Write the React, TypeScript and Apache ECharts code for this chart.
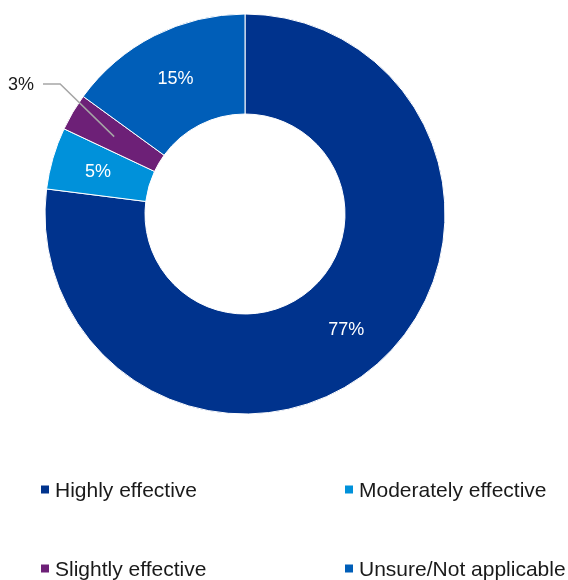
import React, { useEffect, useRef } from "react";
import * as echarts from "echarts";

const categories = ["Highly effective", "Moderately effective", "Slightly effective", "Unsure/Not applicable"];
const values = [77, 5, 3, 15];
const colors = ["#00338D", "#0091DA", "#6D2077", "#005EB8"];

const CX = 245;
const CY = 214;
const R0 = 100;
const R1 = 200;

export default function App() {
  const ref = useRef<HTMLDivElement>(null);
  useEffect(() => {
    const chart = echarts.init(ref.current!, null, { renderer: "svg" });
    const total = values.reduce((a, b) => a + b, 0);
    const legendPos = [
      { left: 39, top: 479 },
      { left: 343, top: 479 },
      { left: 39, top: 558 },
      { left: 343, top: 558 },
    ];
    let before = 0;
    for (let k = 0; k < 2; k++) before += values[k];
    const mid = ((before + values[2] / 2) / total) * Math.PI * 2;
    const rm = (R0 + R1) / 2 + 2;
    const sx = CX + rm * Math.sin(mid);
    const sy = CY - rm * Math.cos(mid);
    const labelY = 84;

    chart.setOption({
      animation: false,
      legend: categories.map((c, i) => ({
        data: [c],
        left: legendPos[i].left,
        top: legendPos[i].top,
        padding: 0,
        icon: "rect",
        itemWidth: 10,
        itemHeight: 10,
        selectedMode: false,
        textStyle: { fontFamily: "Liberation Sans, Arial", fontSize: 21, color: "#1a1a1a" },
      })),
      graphic: [
        {
          type: "polyline",
          z: 100,
          silent: true,
          shape: {
            points: [
              [sx, sy],
              [sx - 54, labelY],
              [43, labelY],
            ],
          },
          style: { stroke: "#a6a6a6", lineWidth: 1.5, fill: "none" },
        },
      ],
      series: [
        {
          type: "pie",
          center: [CX, CY],
          radius: [R0, R1],
          startAngle: 90,
          clockwise: true,
          itemStyle: { borderColor: "#fff", borderWidth: 1 },
          label: {
            position: "inside",
            formatter: (p: any) => `${Math.round((p.value / total) * 100)}%`,
            color: "#fff",
            fontFamily: "Liberation Sans, Arial",
            fontSize: 18,
          },
          labelLayout: (p: any) => {
            if (p.dataIndex !== 2) return {};
            return {
              x: 8,
              y: labelY,
              align: "left",
              verticalAlign: "middle",
            };
          },
          data: categories.map((c, i) => ({
            name: c,
            value: values[i],
            itemStyle: { color: colors[i] },
            ...(i === 2
              ? {
                  label: { position: "outside", color: "#1a1a1a", overflow: "none", width: 60 },
                  labelLine: { show: false },
                }
              : {}),
          })),
        },
      ],
    });
    return () => chart.dispose();
  }, []);
  return <div ref={ref} style={{ position: "fixed", left: 0, top: 0, width: 568, height: 580 }} />;
}
